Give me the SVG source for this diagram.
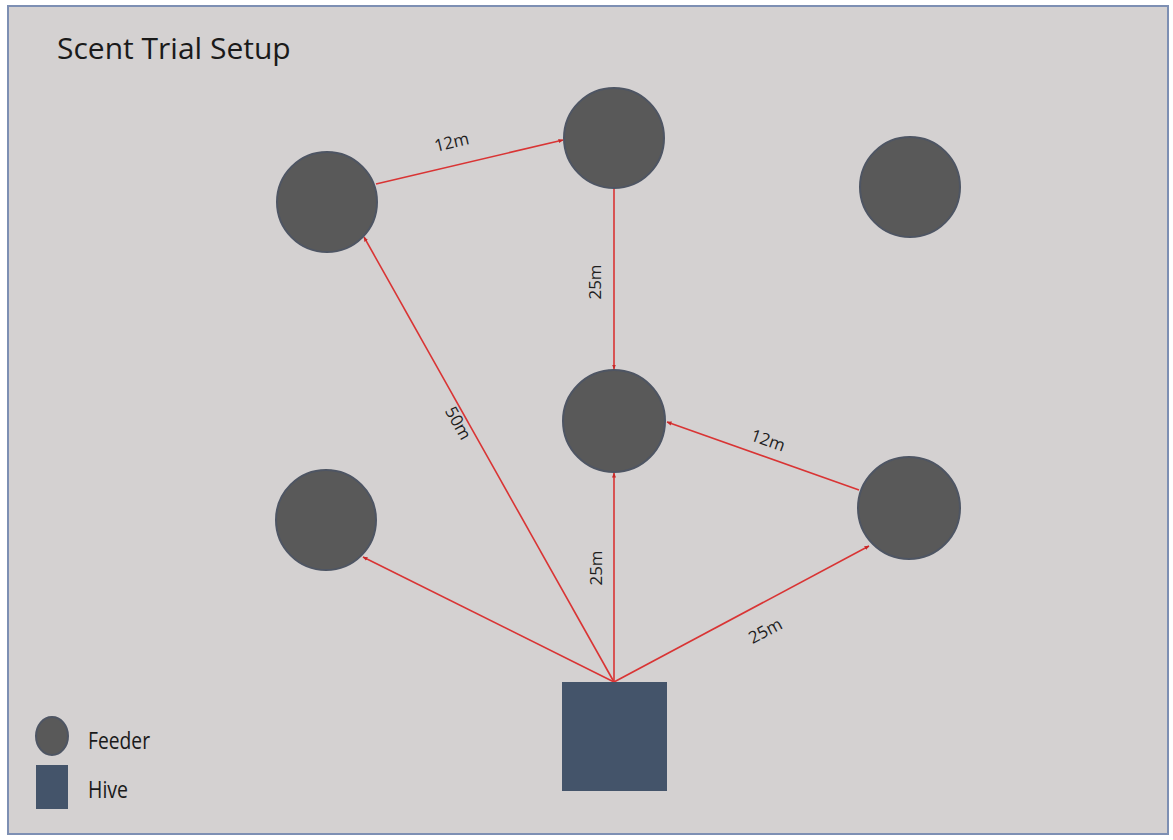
<svg xmlns="http://www.w3.org/2000/svg" width="1173" height="840" viewBox="0 0 1173 840">
  <style>
    .feeder { fill: #595959; stroke: #4e5563; stroke-width: 2; }
    .hive { fill: #44546a; }
    .link { stroke: #d93434; stroke-width: 1.6; fill: none; marker-end: url(#arrow); }
    .lbl { font-family: "Open Sans", "Liberation Sans", sans-serif; font-size: 17px; fill: #1e1e1e; text-anchor: middle; }
    .title { font-family: "Open Sans", "Liberation Sans", sans-serif; font-size: 30px; fill: #1a1a1a; }
    .legend { font-family: "Open Sans", "Liberation Sans", sans-serif; font-size: 23px; fill: #1a1a1a; }
  </style>
  <defs>
    <marker id="arrow" viewBox="0 0 10 10" refX="9" refY="5" markerWidth="5" markerHeight="5" orient="auto" markerUnits="userSpaceOnUse">
      <path d="M0,1 L10,5 L0,9 Z" fill="#c82828"/>
    </marker>
  </defs>

  <!-- page frame -->
  <rect x="0" y="0" width="1173" height="840" fill="#ffffff"/>
  <rect x="8" y="6" width="1160" height="828" fill="#d4d1d1" stroke="#7d8fb3" stroke-width="2"/>

  <text class="title" x="57" y="59">Scent Trial Setup</text>

  <!-- connectors -->
  <g id="connectors">
    <line class="link" x1="376" y1="184" x2="563" y2="140"/>
    <line class="link" x1="614" y1="189" x2="614" y2="369"/>
    <line class="link" x1="859" y1="490" x2="667" y2="422"/>
    <line class="link" x1="614" y1="682" x2="614" y2="473"/>
    <line class="link" x1="614" y1="682" x2="869" y2="546"/>
    <line class="link" x1="614" y1="682" x2="364" y2="237"/>
    <line class="link" x1="614" y1="682" x2="363" y2="557"/>

    <text class="lbl" transform="translate(453,148) rotate(-13.5)">12m</text>
    <text class="lbl" transform="translate(601,282) rotate(-90)">25m</text>
    <text class="lbl" transform="translate(766,446) rotate(19.6)">12m</text>
    <text class="lbl" transform="translate(602,568) rotate(-90)">25m</text>
    <text class="lbl" transform="translate(768,636) rotate(-28)">25m</text>
    <text class="lbl" transform="translate(453,426) rotate(60.7)">50m</text>
  </g>

  <!-- feeders -->
  <g id="feeder-nw"><circle class="feeder" cx="327" cy="202" r="50"/></g>
  <g id="feeder-n"><circle class="feeder" cx="614" cy="138" r="50"/></g>
  <g id="feeder-ne"><circle class="feeder" cx="910" cy="187" r="50"/></g>
  <g id="feeder-center"><circle class="feeder" cx="614" cy="421" r="51"/></g>
  <g id="feeder-e"><circle class="feeder" cx="909" cy="508" r="51"/></g>
  <g id="feeder-w"><circle class="feeder" cx="326" cy="520" r="50"/></g>

  <!-- hive -->
  <g id="hive"><rect class="hive" x="562" y="682" width="105" height="109"/></g>

  <!-- legend -->
  <g id="legend">
    <ellipse class="feeder" cx="52" cy="736" rx="16" ry="19" stroke-width="1"/>
    <text class="legend" x="88" y="749" textLength="62" lengthAdjust="spacingAndGlyphs">Feeder</text>
    <rect class="hive" x="36" y="765" width="32" height="44"/>
    <text class="legend" x="88" y="798" textLength="40" lengthAdjust="spacingAndGlyphs">Hive</text>
  </g>
</svg>
